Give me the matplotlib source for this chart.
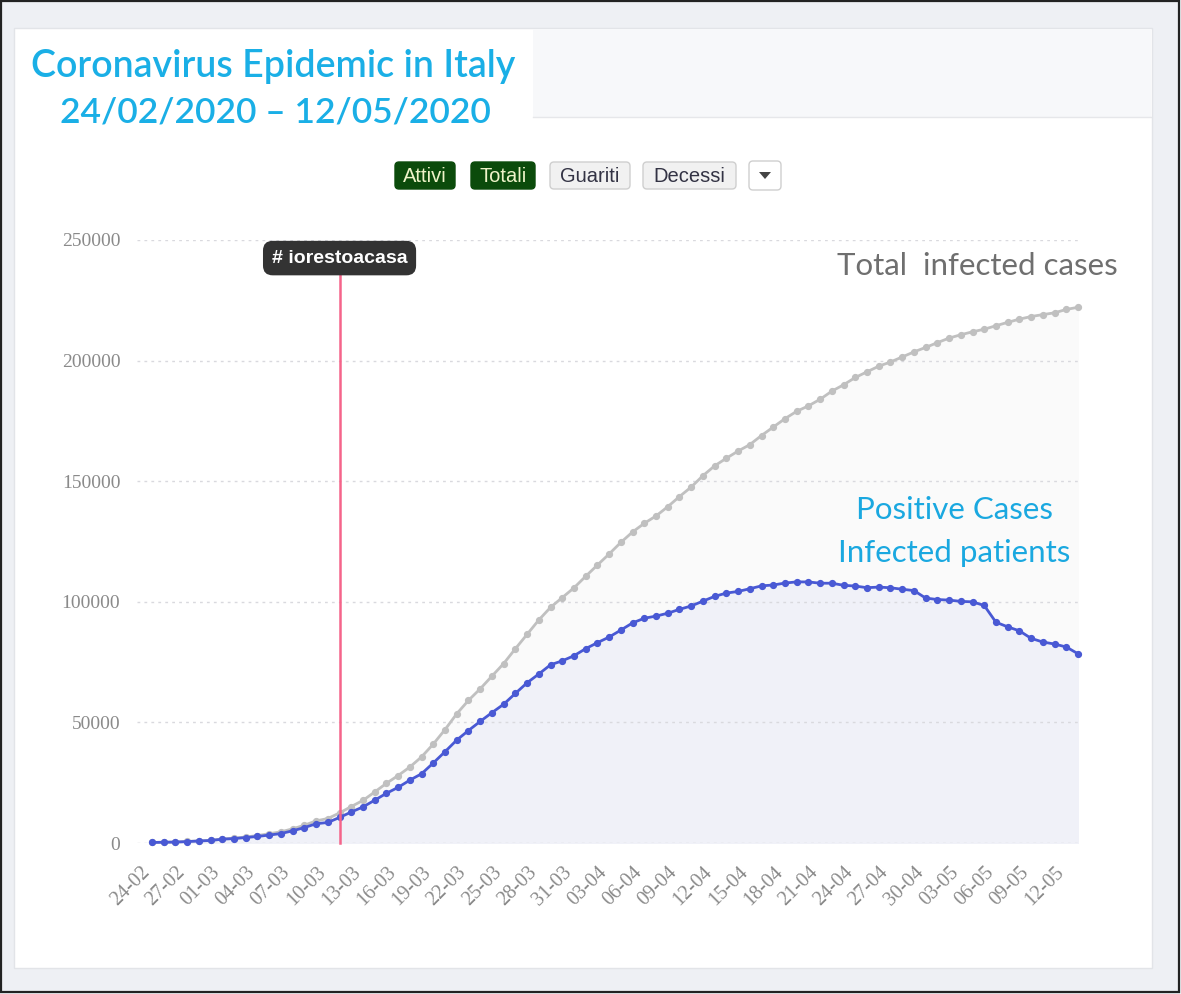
import numpy as np
import pandas as pd
import matplotlib
matplotlib.use('Agg')
import matplotlib.pyplot as plt
from matplotlib.patches import Rectangle, FancyBboxPatch, Polygon
from matplotlib.transforms import ScaledTranslation

# dati: casi totali e positivi attuali, dal 24-02 al 13-05
totali = [229, 322, 400, 650, 888, 1128, 1694, 2036, 2502, 3089,
          3858, 4636, 5883, 7375, 9172, 10149, 12462, 15113, 17660, 21157,
          24747, 27980, 31506, 35713, 41035, 47021, 53578, 59138, 63927, 69176,
          74386, 80539, 86498, 92472, 97689, 101739, 105792, 110574, 115242, 119827,
          124632, 128948, 132547, 135586, 139422, 143626, 147577, 152271, 156363, 159516,
          162488, 165155, 168941, 172434, 175925, 178972, 181228, 183957, 187327, 189973,
          192994, 195351, 197675, 199414, 201505, 203591, 205463, 207428, 209328, 210717,
          211938, 213013, 214457, 215858, 217185, 218268, 219070, 219814, 221216, 222104]
attivi = [221, 311, 385, 588, 821, 1049, 1577, 1835, 2263, 2706,
          3296, 3916, 5061, 6387, 7985, 8514, 10590, 12839, 14955, 17750,
          20603, 23073, 26062, 28710, 33190, 37860, 42681, 46638, 50418, 54030,
          57521, 62013, 66414, 70065, 73880, 75528, 77635, 80572, 83049, 85388,
          88274, 91246, 93187, 94067, 95262, 96877, 98273, 100269, 102253, 103616,
          104291, 105418, 106607, 106962, 107771, 108257, 108237, 107709, 107699, 106848,
          106527, 105847, 106103, 105813, 105205, 104657, 101551, 100943, 100704, 100179,
          99980, 98467, 91528, 89624, 87961, 84842, 83324, 82488, 81266, 78457]
date = pd.date_range('2020-02-24', periods=len(totali), freq='D').strftime('%d-%m').tolist()
lockdown = '11-03'
y_ticks = [0, 50000, 100000, 150000, 200000, 250000]
buttons = ['Attivi', 'Totali', 'Guariti', 'Decessi']

W, H = 1181, 994
fig = plt.figure(figsize=(W / 100, H / 100), dpi=100)

# sfondo in coordinate pixel
bg = fig.add_axes([0, 0, 1, 1])
bg.set_xlim(0, W)
bg.set_ylim(H, 0)
bg.axis('off')
bg.add_patch(Rectangle((0, 0), W, H, facecolor='#eef0f4', edgecolor='none'))
bg.add_patch(Rectangle((1, 1), W - 3, H - 3, facecolor='none', edgecolor='#222222', lw=1.6))
bg.add_patch(Rectangle((14, 28), 1138, 940, facecolor='white', edgecolor='#e2e4e8', lw=1))
bg.add_patch(Rectangle((533, 29), 618, 88, facecolor='#f7f8fa', edgecolor='none'))
bg.plot([533, 1151], [117, 117], color='#e6e7ea', lw=1)

bg.text(273, 67, 'Coronavirus Epidemic in Italy', color='#1aafe6', fontsize=27,
        family='Lato', weight='semibold', ha='center', va='center')
bg.text(275, 113, '24/02/2020 \u2013 12/05/2020', color='#1aafe6', fontsize=25.5,
        family='Lato', weight='semibold', ha='center', va='center')

# pulsanti
bx = [(395, 455), (471, 535), (550, 630), (643, 736)]
for (x0, x1), lab in zip(bx, buttons):
    on = lab in ('Attivi', 'Totali')
    bg.add_patch(FancyBboxPatch((x0, 162), x1 - x0, 27, boxstyle='round,pad=0,rounding_size=4',
                                facecolor='#0b4b0b' if on else '#f1f1f1',
                                edgecolor='#0b4b0b' if on else '#cfcfcf', lw=1))
    bg.text((x0 + x1) / 2, 176, lab, color='#eef3c8' if on else '#333344', fontsize=14.5,
            family=['Liberation Sans Narrow', 'Liberation Sans'], ha='center', va='center')
bg.add_patch(FancyBboxPatch((749, 161), 32, 29, boxstyle='round,pad=0,rounding_size=4',
                            facecolor='white', edgecolor='#cfcfcf', lw=1))
bg.add_patch(Polygon([[759, 172], [771, 172], [765, 179]], closed=True, facecolor='#444444'))

# grafico
px_left, px_right, px_top, px_bot = 137, 1078, 240, 843
ax = fig.add_axes([px_left / W, 1 - px_bot / H, (px_right - px_left) / W, (px_bot - px_top) / H])
ax.patch.set_alpha(0)
x = np.arange(len(totali))
step = (px_right - 152) / (len(totali) - 1)
ax.set_xlim(-(152 - px_left) / step, len(totali) - 1)
ax.set_ylim(0, 250000)

ax.fill_between(x, totali, color='#fafafa', zorder=1)
ax.fill_between(x, attivi, color='#f0f1f8', zorder=2)
for yv in y_ticks:
    ax.axhline(yv, color='#d9d9de', lw=1, ls=(0, (2, 3)), zorder=2.5)
ax.plot(x, totali, color='#c0c0c0', lw=2, marker='o', ms=4.2, zorder=4, clip_on=False)
ax.plot(x, attivi, color='#4959d4', lw=2, marker='o', ms=4.2, zorder=5, clip_on=False)

ix = date.index(lockdown)
ax.plot([ix, ix], [0, 242000], color='#f5648a', lw=1.8, zorder=6, clip_on=False)
ax.text(ix, 242500, '# iorestoacasa', color='white', fontsize=14, weight='bold',
        family=['Liberation Sans Narrow', 'Liberation Sans'], ha='center', va='center',
        zorder=7, clip_on=False,
        bbox=dict(boxstyle='round,pad=0.45,rounding_size=0.5', facecolor='#333333', edgecolor='none'))

# etichette delle serie
ax.text(977, 266, 'Total  infected cases', color='#6f6f6f', fontsize=22.5, family='Lato',
        ha='center', va='center', transform=bg.transData, zorder=10)
ax.text(954, 510, 'Positive Cases', color='#1aa8e0', fontsize=22.5, family='Lato',
        ha='center', va='center', transform=bg.transData, zorder=10)
ax.text(954, 553, 'Infected patients', color='#1aa8e0', fontsize=22.5, family='Lato',
        ha='center', va='center', transform=bg.transData, zorder=10)

for s in ax.spines.values():
    s.set_visible(False)
ax.set_yticks(y_ticks)
ax.set_yticklabels([str(v) for v in y_ticks], family='Liberation Serif', fontsize=14, color='#8a8a8a')
ax.set_xticks(x[::3])
ax.set_xticklabels(date[::3], family='Liberation Serif', fontsize=14.5, color='#8a8a8a',
                   rotation=45, ha='right', va='center', rotation_mode='anchor')
ax.tick_params(axis='y', length=0, pad=12)
ax.tick_params(axis='x', length=0, pad=19)
shift = ScaledTranslation(-0.05, 0, fig.dpi_scale_trans)
for lab in ax.get_xticklabels():
    lab.set_transform(lab.get_transform() + shift)

fig.savefig('out.png', dpi=100)
